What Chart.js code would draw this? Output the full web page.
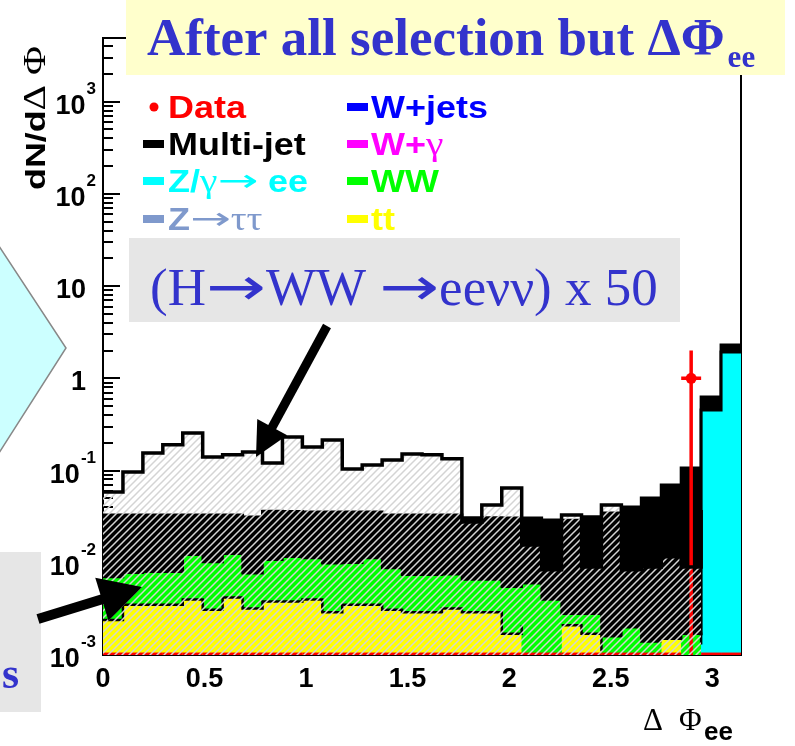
<!DOCTYPE html>
<html>
<head>
<meta charset="utf-8">
<script src="https://cdn.jsdelivr.net/npm/chart.js@4.4.1/dist/chart.umd.min.js"></script>
<style>
  html, body { margin: 0; padding: 0; background: #fff; }
  #wrap { position: relative; width: 795px; height: 746px; }
</style>
</head>
<body>
<div id="wrap"><canvas id="c" width="795" height="746"></canvas></div>
<script>
// Delta-phi(ee) after all selection cuts, 32 bins over [0, pi]
const N_BINS = 32;
const PHI_MAX = Math.PI;

// Expected events per bin, stacked from the bottom up
const ttbar = [0.0024, 0.0035, 0.0035, 0.0035, 0.0040, 0.0031, 0.0042, 0.0032, 0.0038, 0.0038,
               0.0040, 0.0029, 0.0035, 0.0035, 0.0031, 0.0029, 0.0029, 0.0032, 0.0029, 0.0029,
               0.0017, 0.0021, 0, 0.0021, 0.0017, 0.0011, 0, 0, 0.0015, 0.0015,
               0, 0];
const ww = [0.0046, 0.0043, 0.0045, 0.0045, 0.0082, 0.0071, 0.0083, 0.0045, 0.0070, 0.0078,
            0.0073, 0.0070, 0.0065, 0.0078, 0.0057, 0.0045, 0.0045, 0.0043, 0.0037, 0.0037,
            0.0038, 0.0039, 0.0040, 0.0007, 0.0011, 0.0005, 0.0020, 0.0014, 0, 0.0002,
            0.0013, 0];
const zee = [0, 0, 0, 0, 0, 0, 0, 0, 0, 0,
             0, 0, 0, 0, 0, 0, 0, 0, 0, 0,
             0, 0, 0, 0, 0, 0, 0, 0, 0, 0,
             0.453, 1.93];
const multiJet = [0.0260, 0.0252, 0.0250, 0.0250, 0.0208, 0.0228, 0.0205, 0.0236, 0.0253, 0.0244,
                  0.0243, 0.0256, 0.0256, 0.0243, 0.0242, 0.0256, 0.0256, 0.0254, 0.0241, 0.0241,
                  0.0251, 0.0246, 0.0251, 0.0262, 0.0287, 0.0330, 0.0383, 0.0490, 0.0683, 0.1050,
                  0.174, 0.37];

// Signal H -> WW -> ee nu nu, scaled by 50
const higgsX50 = [0.0586, 0.0966, 0.155, 0.190, 0.256, 0.140, 0.148, 0.159, 0.121, 0.231,
                  0.180, 0.215, 0.104, 0.115, 0.130, 0.151, 0.148, 0.134, 0.0277, 0.0424,
                  0.0648, 0.0156, 0.0084, 0.0330, 0.0090, 0.0424, 0.0084, 0.0090, 0.0116, 0.0090,
                  0.0374, 0];

// Observed events
const observed = [0, 0, 0, 0, 0, 0, 0, 0, 0, 0,
                  0, 0, 0, 0, 0, 0, 0, 0, 0, 0,
                  0, 0, 0, 0, 0, 0, 0, 0, 0, 1,
                  0, 0];

const yTickPowers = [-3, -2, -1, 0, 1, 2, 3];
const xTickValues = [0, 0.5, 1, 1.5, 2, 2.5, 3];
const Y_MIN = 1e-3, Y_MAX = 4900;

const legendLabels = ['Data', 'Multi-jet', 'Z/γ→ ee', 'Z→ττ', 'W+jets', 'W+γ', 'WW', 'tt'];
const legendColors = ['#ff0000', '#000000', '#00ffff', '#7f99cc', '#0000ff', '#ff00ff', '#00ff00', '#ffff00'];

const SANS = '"Liberation Sans", Arial, sans-serif';
const SERIF = '"Liberation Serif", "Times New Roman", serif';
const ARROWF = '"DejaVu Sans", sans-serif';
const SLIDE_BLUE = '#3333cc';
const ARROW_STRETCH = 1.35;

// ---- histogram helpers ----
const edges = Array.from({ length: N_BINS + 1 }, (_, i) => i * PHI_MAX / N_BINS);
function runningSum(...layers) {
  return layers[0].map((_, i) => layers.reduce((s, l) => s + l[i], 0));
}
const cumTt = runningSum(ttbar);
const cumWw = runningSum(ttbar, ww);
const cumZee = runningSum(ttbar, ww, zee);
const cumAll = runningSum(ttbar, ww, zee, multiJet);

// step outline: rise at the left edge, flat across each bin, drop at the right edge
function histPoints(vals) {
  const pts = [{ x: edges[0], y: 0 }];
  vals.forEach((v, i) => pts.push({ x: edges[i], y: v }));
  pts.push({ x: edges[N_BINS], y: vals[N_BINS - 1] });
  pts.push({ x: edges[N_BINS], y: 0 });
  return pts;
}

const canvas = document.getElementById('c');
const mainCtx = canvas.getContext('2d');

function hatchPattern() {
  const s = 7;
  const t = document.createElement('canvas');
  t.width = s; t.height = s;
  const g = t.getContext('2d');
  g.strokeStyle = '#d4d4d4';
  g.lineWidth = 1.5;
  g.beginPath();
  g.moveTo(-1, s + 1); g.lineTo(s + 1, -1);
  g.moveTo(-1, 1); g.lineTo(1, -1);
  g.moveTo(s - 1, s + 1); g.lineTo(s + 1, s - 1);
  g.stroke();
  return mainCtx.createPattern(t, 'repeat');
}

const histStyle = {
  stepped: true, pointRadius: 0, tension: 0, fill: 'start',
  borderColor: '#000', borderJoinStyle: 'miter', borderCapStyle: 'butt'
};

// ---- text helpers ----
// draws one glyph; arrows are drawn wider, like the Symbol-font arrow
function glyph(ctx, ch, cx, cy, font) {
  ctx.font = font;
  const w = ctx.measureText(ch).width;
  if (ch === '→') {
    ctx.save();
    ctx.translate(cx, cy);
    ctx.scale(ARROW_STRETCH, 1);
    ctx.fillText(ch, 0, 0);
    ctx.restore();
    return w * ARROW_STRETCH;
  }
  ctx.fillText(ch, cx, cy);
  return w;
}
// each character picks its face: Greek in serif, arrows in DejaVu, the rest in bold sans
function fontFor(ch, size, bold) {
  if (ch === '→') return `${size}px ${ARROWF}`;
  if ('γτνΔΦ'.includes(ch)) return `${Math.round(size * 1.1)}px ${SERIF}`;
  return `${bold ? 'bold ' : ''}${size}px ${SANS}`;
}
function drawRich(ctx, text, x, y, size, color, stretch, bold = true) {
  ctx.save();
  ctx.translate(x, y);
  ctx.scale(stretch, 1);
  ctx.fillStyle = color;
  ctx.textAlign = 'left';
  ctx.textBaseline = 'alphabetic';
  let cx = 0;
  for (const ch of text) {
    cx += glyph(ctx, ch, cx, ch === '→' ? -size * 0.04 : 0, fontFor(ch, size, bold));
  }
  ctx.restore();
}
// serif text with a DejaVu arrow glyph
function drawSerifLine(ctx, text, x, y, size, weight) {
  ctx.textAlign = 'left';
  let cx = x;
  for (const ch of text) {
    const f = ch === '→' ? `${size}px ${ARROWF}` : `${weight} ${size}px ${SERIF}`;
    cx += glyph(ctx, ch, cx, y, f);
  }
  return cx - x;
}
function drawArrow(ctx, x0, y0, x1, y1, shaftW, headL, headW) {
  const dx = x1 - x0, dy = y1 - y0, L = Math.hypot(dx, dy);
  const ux = dx / L, uy = dy / L;
  const bx = x1 - ux * headL, by = y1 - uy * headL;
  ctx.save();
  ctx.strokeStyle = '#000'; ctx.fillStyle = '#000';
  ctx.lineWidth = shaftW; ctx.lineCap = 'butt';
  ctx.beginPath(); ctx.moveTo(x0, y0); ctx.lineTo(bx + ux * 2, by + uy * 2); ctx.stroke();
  ctx.beginPath();
  ctx.moveTo(x1, y1);
  ctx.lineTo(bx - uy * headW / 2, by + ux * headW / 2);
  ctx.lineTo(bx + uy * headW / 2, by - ux * headW / 2);
  ctx.closePath(); ctx.fill();
  ctx.restore();
}

// ---- plugins ----
const frameAndTicks = {
  id: 'frameAndTicks',
  beforeDatasetsDraw(chart) {
    const { ctx, chartArea: a, scales: { x, y } } = chart;
    ctx.save();
    ctx.strokeStyle = '#000';
    ctx.lineWidth = 2;
    ctx.strokeRect(a.left, a.top, a.right - a.left, a.bottom - a.top);
    for (let p = yTickPowers[0]; p <= yTickPowers[yTickPowers.length - 1]; p++) {
      for (let m = 1; m <= 9; m++) {
        const v = m * Math.pow(10, p);
        if (v < Y_MIN || v > Y_MAX) continue;
        const py = Math.round(y.getPixelForValue(v));
        const len = m === 1 ? 17 : 10;
        ctx.beginPath(); ctx.moveTo(a.left, py); ctx.lineTo(a.left + len, py); ctx.stroke();
      }
    }
    for (let k = 0; k <= 31; k++) {
      const v = k / 10;
      const px = Math.round(x.getPixelForValue(v));
      const len = k % 5 === 0 ? 17 : 9;
      ctx.beginPath(); ctx.moveTo(px, a.bottom); ctx.lineTo(px, a.bottom - len); ctx.stroke();
    }
    ctx.restore();
  }
};

const dataMarks = {
  id: 'dataMarks',
  afterDatasetDraw(chart, args) {
    if (args.index !== 1) return;
    const { ctx, chartArea: a, scales: { x, y } } = chart;
    ctx.save();
    ctx.strokeStyle = '#ff0000';
    ctx.lineCap = 'butt';
    observed.forEach((n, i) => {
      const xl = x.getPixelForValue(edges[i]), xr = x.getPixelForValue(edges[i + 1]);
      if (n === 0) {
        ctx.lineWidth = 2.5;
        ctx.beginPath(); ctx.moveTo(xl, a.bottom - 1.2); ctx.lineTo(xr, a.bottom - 1.2); ctx.stroke();
      } else {
        const xc = (xl + xr) / 2;
        const err = Math.sqrt(n);
        ctx.lineWidth = 3.5;
        ctx.beginPath();
        ctx.moveTo(xc, y.getPixelForValue(n + err));
        ctx.lineTo(xc, n - err > 0 ? y.getPixelForValue(n - err) : a.bottom);
        ctx.moveTo(xl, y.getPixelForValue(n)); ctx.lineTo(xr, y.getPixelForValue(n));
        ctx.stroke();
      }
    });
    ctx.restore();
  }
};

const decorations = {
  id: 'decorations',
  afterDraw(chart) {
    const { ctx, chartArea: a, scales: { x, y } } = chart;
    ctx.save();

    // y tick labels
    ctx.fillStyle = '#000';
    ctx.textBaseline = 'alphabetic';
    yTickPowers.forEach(p => {
      const py = y.getPixelForValue(Math.pow(10, p));
      if (p === 0 || p === 1) {
        ctx.font = `bold 27px ${SANS}`;
        ctx.textAlign = 'right';
        ctx.fillText(p === 0 ? '1' : '10', 86, py + 12);
      } else {
        ctx.font = `bold 17px ${SANS}`;
        ctx.textAlign = 'right';
        const e = String(p);
        ctx.fillText(e, 96, py - 8);
        const ew = ctx.measureText(e).width;
        ctx.font = `bold 27px ${SANS}`;
        ctx.fillText('10', 96 - ew - 1, py + 12);
      }
    });

    // x tick labels
    ctx.font = `bold 27px ${SANS}`;
    ctx.textAlign = 'center';
    xTickValues.forEach(v => ctx.fillText(String(v), x.getPixelForValue(v), 687));

    // x title
    ctx.textAlign = 'left';
    ctx.font = `31px ${SERIF}`;
    ctx.fillText('Δ', 643, 730);
    ctx.fillText('Φ', 679, 730);
    ctx.font = `bold 26px ${SANS}`;
    ctx.fillText('ee', 704, 740);

    // y title
    ctx.save();
    ctx.translate(45, 190);
    ctx.rotate(-Math.PI / 2);
    drawRich(ctx, 'dN/dΔ Φ', 0, 0, 28, '#000', 1.28);
    ctx.restore();

    // legend
    const colX = [143, 347], textX = [168, 371], rowY = [118, 155, 192, 230];
    legendLabels.forEach((lab, i) => {
      const c = i < 4 ? 0 : 1, r = i % 4, by = rowY[r];
      ctx.fillStyle = legendColors[i];
      if (lab === 'Data') {
        ctx.beginPath(); ctx.arc(154, by - 11, 4.5, 0, Math.PI * 2); ctx.fill();
      } else {
        ctx.fillRect(colX[c], by - 15, 21, 8);
      }
      drawRich(ctx, lab, textX[c], by, 31, legendColors[i], 1.16);
    });

    // title banner
    ctx.fillStyle = '#ffffcc';
    ctx.fillRect(126, 0, 659, 75);
    ctx.fillStyle = SLIDE_BLUE;
    ctx.textAlign = 'left';
    ctx.font = `bold 53px ${SERIF}`;
    const title = 'After all selection but ΔΦ';
    ctx.fillText(title, 147, 55);
    const tw = ctx.measureText(title).width;
    ctx.font = `bold 31px ${SERIF}`;
    ctx.fillText('ee', 147 + tw + 3, 67);

    // signal caption box
    ctx.fillStyle = '#e6e6e6';
    ctx.fillRect(129, 238, 551, 84);
    ctx.fillStyle = SLIDE_BLUE;
    drawSerifLine(ctx, '(H→WW →eeνν) x 50', 150, 305, 53, 'normal');

    // side panel shapes
    ctx.fillStyle = '#ccffff';
    ctx.strokeStyle = '#888888';
    ctx.lineWidth = 1.5;
    ctx.beginPath(); ctx.moveTo(-3, 243); ctx.lineTo(66, 348); ctx.lineTo(-3, 456); ctx.closePath();
    ctx.fill(); ctx.stroke();

    ctx.fillStyle = '#e6e6e6';
    ctx.fillRect(0, 552, 41, 160);
    ctx.fillStyle = SLIDE_BLUE;
    ctx.font = `bold 44px ${SERIF}`;
    ctx.fillText('s', 2, 688);

    // pointer arrows
    drawArrow(ctx, 327, 326, 256, 457, 9, 34, 34);
    drawArrow(ctx, 38, 619, 142, 587, 10, 42, 45);

    ctx.restore();
  }
};

const pattern = hatchPattern();

new Chart(canvas, {
  type: 'line',
  data: {
    datasets: [
      { label: 'H→WW x50', data: histPoints(higgsX50), ...histStyle, backgroundColor: pattern, borderWidth: 3.5 },
      { label: 'Data', data: observed.map((n, i) => ({ x: (edges[i] + edges[i + 1]) / 2, y: n })),
        showLine: false, fill: false, pointStyle: 'circle',
        pointRadius: ctx => (ctx.raw && ctx.raw.y > 0 ? 5.5 : 0),
        pointBackgroundColor: '#ff0000', pointBorderWidth: 0, borderColor: '#ff0000' },
      { label: 'tt', data: histPoints(cumTt), ...histStyle, backgroundColor: '#ffff00', borderWidth: 2.5 },
      { label: 'WW', data: histPoints(cumWw), ...histStyle, backgroundColor: '#00ff00', borderWidth: 2.5 },
      { label: 'Z/γ→ee', data: histPoints(cumZee), ...histStyle, backgroundColor: '#00ffff', borderWidth: 3 },
      { label: 'Multi-jet', data: histPoints(cumAll), ...histStyle, backgroundColor: '#000000', borderWidth: 3 }
    ]
  },
  options: {
    responsive: false,
    animation: false,
    devicePixelRatio: 1,
    layout: { padding: { left: 103, right: 54, top: 38, bottom: 91 } },
    plugins: { legend: { display: false }, tooltip: { enabled: false }, title: { display: false } },
    scales: {
      x: { type: 'linear', min: 0, max: PHI_MAX, display: false },
      y: { type: 'logarithmic', min: Y_MIN, max: Y_MAX, display: false }
    }
  },
  plugins: [frameAndTicks, dataMarks, decorations]
});
</script>
</body>
</html>
